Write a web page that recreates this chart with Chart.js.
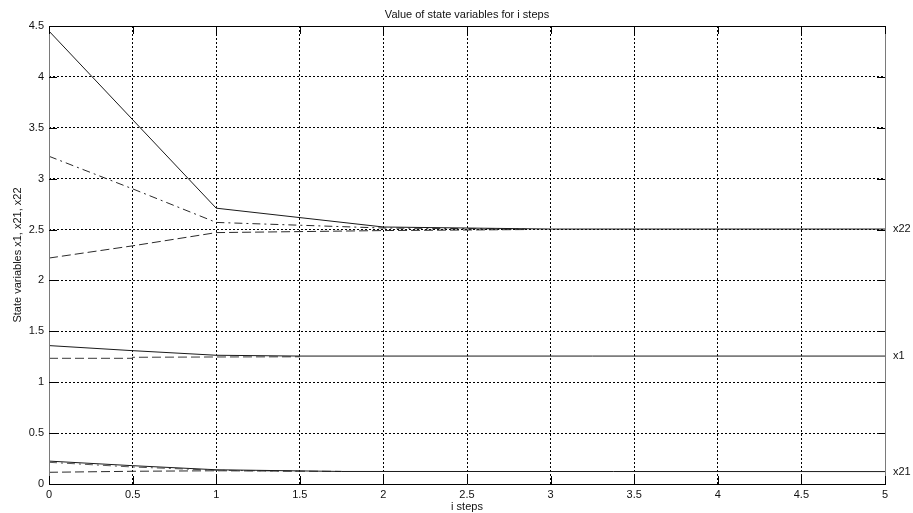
<!DOCTYPE html>
<html><head><meta charset="utf-8">
<script src="https://cdn.jsdelivr.net/npm/chart.js@4/dist/chart.umd.min.js"></script>
<style>html,body{margin:0;padding:0;background:#fff}#wrap{width:913px;height:513px;position:relative}</style>
</head><body><div id="wrap"><canvas id="c" width="913" height="513"></canvas></div>
<script>
const titleText = "Value of state variables for i steps";
const xAxisTitle = "i steps";
const yAxisTitle = "State variables x1, x21, x22";
const xTicks = [0, 0.5, 1, 1.5, 2, 2.5, 3, 3.5, 4, 4.5, 5];
const yTicks = [0, 0.5, 1, 1.5, 2, 2.5, 3, 3.5, 4, 4.5];
const endLabels = ["x22", "x1", "x21"];

// x22
const x22SolidX = [0, 1, 2, 3, 5];
const x22SolidY = [4.45, 2.71, 2.525, 2.505, 2.505];
const x22DashDotX = [0, 0.5, 1, 2, 2.85];
const x22DashDotY = [3.22, 2.9, 2.57, 2.515, 2.505];
const x22DashX = [0, 0.5, 1, 2, 2.85];
const x22DashY = [2.22, 2.34, 2.47, 2.49, 2.5];
// x1
const x1SolidX = [0, 0.5, 1, 1.5, 5];
const x1SolidY = [1.36, 1.31, 1.265, 1.257, 1.257];
const x1DashX = [0, 0.5, 0.5, 1, 1.5];
const x1DashY = [1.235, 1.235, 1.245, 1.248, 1.25];
// x21
const x21SolidX = [0, 0.5, 1, 1.75, 5];
const x21SolidY = [0.225, 0.18, 0.14, 0.123, 0.122];
const x21DashDotX = [0, 0.5, 1, 1.5];
const x21DashDotY = [0.213, 0.167, 0.135, 0.125];
const x21DashX = [0, 0.5, 1, 1.75];
const x21DashY = [0.115, 0.125, 0.13, 0.124];

const pts = (xs, ys) => xs.map((x, i) => ({x, y: ys[i]}));
const ds = (xs, ys, dash, color) => ({
  data: pts(xs, ys), showLine: true, borderColor: color, borderWidth: 1,
  borderDash: dash, pointRadius: 0, fill: false, tension: 0
});
const DASH = [9, 4], DASHDOT = [8, 4, 2, 4];

const solids = [[x22SolidX, x22SolidY], [x1SolidX, x1SolidY], [x21SolidX, x21SolidY]];

const textPlugin = {
  id: 'texts',
  afterDraw(chart) {
    const ctx = chart.ctx, a = chart.chartArea;
    const xs = chart.scales.x, ys = chart.scales.y;
    ctx.save();
    // frame
    ctx.lineWidth = 1;
    ctx.strokeStyle = '#000';
    ctx.beginPath();
    ctx.moveTo(a.left, Math.round(a.top) + 0.5); ctx.lineTo(a.right, Math.round(a.top) + 0.5);
    ctx.moveTo(a.left, Math.round(a.bottom) + 0.5); ctx.lineTo(a.right + 1, Math.round(a.bottom) + 0.5);
    ctx.stroke();
    ctx.strokeStyle = '#7a7a7a';
    ctx.beginPath();
    ctx.moveTo(Math.round(a.left) + 0.5, a.top); ctx.lineTo(Math.round(a.left) + 0.5, a.bottom);
    ctx.moveTo(Math.round(a.right) + 0.5, a.top); ctx.lineTo(Math.round(a.right) + 0.5, a.bottom);
    ctx.stroke();
    // right side inward ticks
    ctx.strokeStyle = '#000';
    ctx.beginPath();
    yTicks.forEach(v => { const py = Math.round(ys.getPixelForValue(v)) + 0.5; ctx.moveTo(a.right - 8, py); ctx.lineTo(a.right, py); ctx.moveTo(a.left, py); ctx.lineTo(a.left + 8, py); });
    xTicks.forEach(v => { const px = Math.round(xs.getPixelForValue(v)) + 0.5; ctx.moveTo(px, a.top); ctx.lineTo(px, a.top + 8); ctx.moveTo(px, a.bottom - 8); ctx.lineTo(px, a.bottom); });
    ctx.stroke();

    ctx.fillStyle = '#111';
    ctx.font = '11px "Liberation Sans", Arial, sans-serif';
    ctx.textAlign = 'center'; ctx.textBaseline = 'middle';
    ctx.fillText(titleText, (a.left + a.right) / 2, 15);
    ctx.fillText(xAxisTitle, (a.left + a.right) / 2, 507);
    ctx.save();
    ctx.translate(18, (a.top + a.bottom) / 2);
    ctx.rotate(-Math.PI / 2);
    ctx.fillText(yAxisTitle, 0, 0);
    ctx.restore();
    ctx.textAlign = 'left';
    solids.forEach(([sx, sy], i) => {
      const py = ys.getPixelForValue(sy[sy.length - 1]);
      ctx.fillText(endLabels[i], a.right + 8, py);
    });
    ctx.restore();
  }
};

new Chart(document.getElementById('c'), {
  type: 'scatter',
  data: {
    datasets: [
      ds(x22SolidX, x22SolidY, [], '#1a1a1a'),
      ds(x22DashDotX, x22DashDotY, DASHDOT, '#2a2a2a'),
      ds(x22DashX, x22DashY, DASH, '#2a2a2a'),
      ds(x1SolidX, x1SolidY, [], '#1a1a1a'),
      ds(x1DashX, x1DashY, DASH, '#3a3a3a'),
      ds(x21SolidX, x21SolidY, [], '#1a1a1a'),
      ds(x21DashDotX, x21DashDotY, DASHDOT, '#555'),
      ds(x21DashX, x21DashY, DASH, '#2a2a2a')
    ]
  },
  options: {
    responsive: false, animation: false, devicePixelRatio: 1,
    layout: {padding: {top: 26, right: 28, left: 0, bottom: 0}},
    plugins: {legend: {display: false}, tooltip: {enabled: false}, title: {display: false}},
    scales: {
      x: {
        type: 'linear', min: 0, max: 5,
        afterFit(s) { s.height = 29; },
        afterBuildTicks(s) { s.ticks = xTicks.map(v => ({value: v})); },
        grid: {color: '#000', lineWidth: 1, drawTicks: false},
        border: {display: false, dash: [2, 2]},
        ticks: {padding: 4, color: '#111', font: {family: '"Liberation Sans", Arial, sans-serif', size: 11}, maxRotation: 0, callback: v => String(v)}
      },
      y: {
        type: 'linear', min: 0, max: 4.5,
        afterFit(s) { s.width = 49; },
        afterBuildTicks(s) { s.ticks = yTicks.map(v => ({value: v})); },
        grid: {color: '#000', lineWidth: 1, drawTicks: false},
        border: {display: false, dash: [2, 2]},
        ticks: {padding: 5, color: '#111', font: {family: '"Liberation Sans", Arial, sans-serif', size: 11}, callback: v => String(v)}
      }
    }
  },
  plugins: [textPlugin]
});
</script></body></html>
